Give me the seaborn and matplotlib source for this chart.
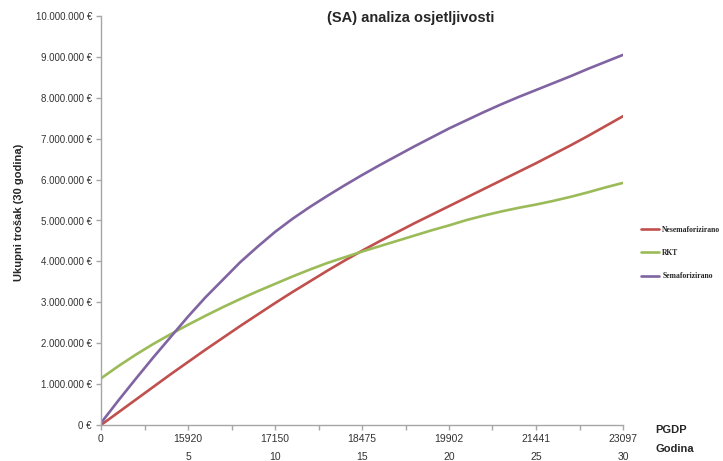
import numpy as np
import pandas as pd
import matplotlib
matplotlib.use("Agg")
import matplotlib.pyplot as plt
import seaborn as sns

# ------------------------------
# Data (values in millions of EUR)
# ------------------------------
godina = list(range(31))
pgdp_labels = ['0', '15920', '17150', '18475', '19902', '21441', '23097']
godina_labels = ['', '5', '10', '15', '20', '25', '30']

nesemaforizirano = [0.00, 0.31, 0.62, 0.93, 1.24, 1.54, 1.84, 2.13, 2.42, 2.70,
                    2.98, 3.25, 3.51, 3.77, 4.02, 4.26, 4.49, 4.71, 4.93, 5.14,
                    5.35, 5.56, 5.77, 5.98, 6.19, 6.40, 6.62, 6.84, 7.07, 7.31, 7.55]
rkt = [1.14, 1.44, 1.72, 1.98, 2.22, 2.45, 2.67, 2.88, 3.08, 3.27,
       3.45, 3.63, 3.80, 3.96, 4.10, 4.24, 4.37, 4.50, 4.63, 4.76,
       4.88, 5.01, 5.12, 5.22, 5.31, 5.39, 5.48, 5.58, 5.69, 5.81, 5.92]
semaforizirano = [0.05, 0.60, 1.13, 1.65, 2.15, 2.65, 3.12, 3.55, 3.98, 4.36,
                  4.72, 5.04, 5.33, 5.60, 5.86, 6.11, 6.35, 6.58, 6.81, 7.03,
                  7.25, 7.45, 7.65, 7.84, 8.02, 8.19, 8.36, 8.53, 8.71, 8.88, 9.05]

series = ['Nesemaforizirano', 'RKT', 'Semaforizirano']
colors = ['#C0504D', '#9BBB59', '#8064A2']

# ------------------------------
# Long-form table for seaborn
# ------------------------------
df = pd.DataFrame({
    'Godina': godina * 3,
    'Trosak': [v * 1e6 for v in nesemaforizirano + rkt + semaforizirano],
    'Serija': [s for s in series for _ in godina],
})

sns.set_style("white")
plt.rcParams['font.family'] = ['Liberation Sans', 'DejaVu Sans']

fig = plt.figure(figsize=(7.23, 4.61), dpi=100)
ax = fig.add_axes([101 / 723, 1 - 425 / 461, (623 - 101) / 723, (425 - 16) / 461])

sns.lineplot(data=df, x='Godina', y='Trosak', hue='Serija', hue_order=series,
             palette=colors, linewidth=1.9, ax=ax, legend=False)

# ------------------------------
# Axes styling
# ------------------------------
ax.set_xlim(0, 30)
ax.set_ylim(0, 10e6)
sns.despine(ax=ax)
for side in ['left', 'bottom']:
    ax.spines[side].set_color('#A6A6A6')
    ax.spines[side].set_linewidth(1.0)

yt = np.arange(0, 10e6 + 1, 1e6)
ax.set_yticks(yt)
ax.set_yticklabels([f"{int(v):,} €".replace(',', '.') for v in yt], fontsize=7, color='#333333')

ax.set_xticks(range(0, 31, 5))
ax.set_xticks(np.arange(2.5, 30, 5), minor=True)
ax.set_xticklabels([f"{p}\n{g}" for p, g in zip(pgdp_labels, godina_labels)],
                   fontsize=7.5, color='#333333', linespacing=2.0)
ax.tick_params(axis='both', which='both', direction='out', length=3.5,
               color='#A6A6A6', width=1.0, pad=3)
ax.tick_params(axis='x', which='both', bottom=True)
ax.tick_params(axis='y', left=True)

ax.set_xlabel('')
ax.set_ylabel('Ukupni trošak (30 godina)', fontsize=8, fontweight='bold')
ax.yaxis.set_label_coords(-0.148, 0.52)

fig.text(411 / 723, 1 - 18 / 461, '(SA) analiza osjetljivosti', ha='center', va='center',
         fontsize=10.5, fontweight='bold')
fig.text(655 / 723, 1 - 430 / 461, 'PGDP', ha='left', va='center', fontsize=8, fontweight='bold')
fig.text(655 / 723, 1 - 449 / 461, 'Godina', ha='left', va='center', fontsize=8, fontweight='bold')

# ------------------------------
# Legend on the right
# ------------------------------
handles = [plt.Line2D([0], [0], color=c, linewidth=1.9) for c in colors]
fig.legend(handles, series, loc='center left', bbox_to_anchor=(634 / 723, 1 - 253 / 461),
           frameon=False, handlelength=2.4, handletextpad=0.4, labelspacing=2.0,
           prop={'family': 'Liberation Serif', 'weight': 'bold', 'size': 5.5})

fig.savefig('out.png', dpi=100)
